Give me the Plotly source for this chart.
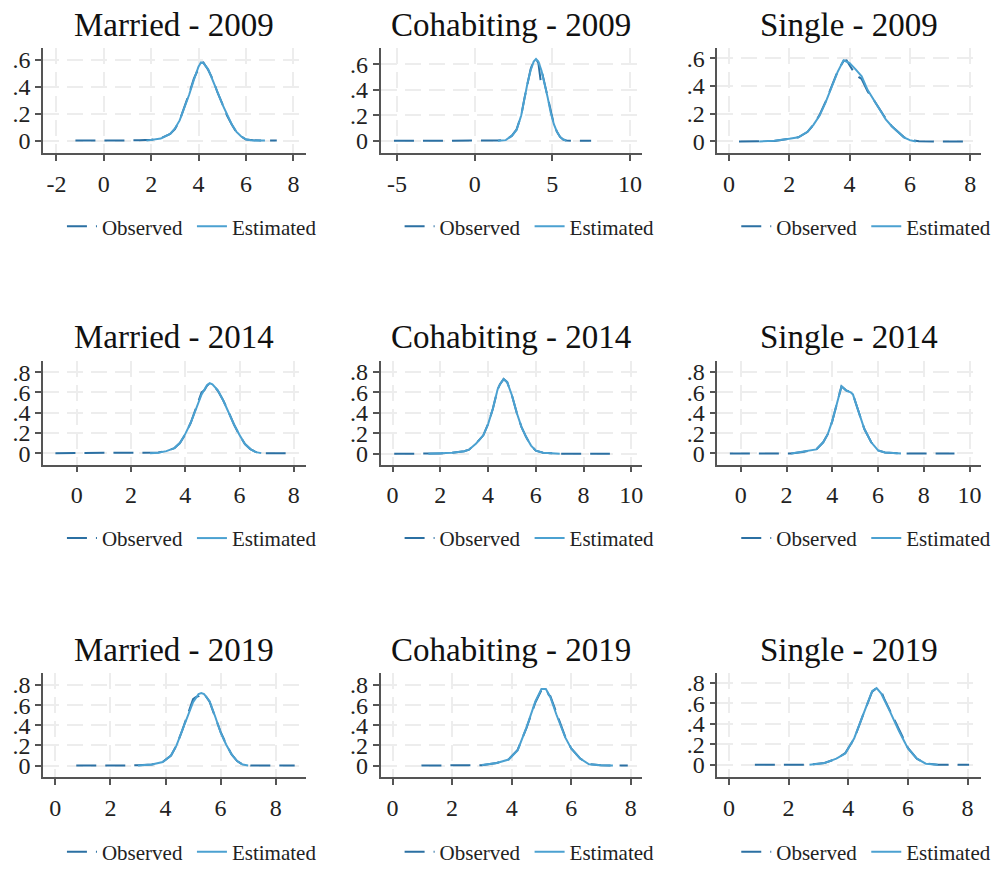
import plotly.graph_objects as go

FONT = "Liberation Serif"
OBS_COLOR = "#2b70a3"
EST_COLOR = "#4ba1d1"
AXIS_COLOR = "#555555"
GRID_COLOR = "#ededed"

titles = ["Married - 2009", "Cohabiting - 2009", "Single - 2009",
          "Married - 2014", "Cohabiting - 2014", "Single - 2014",
          "Married - 2019", "Cohabiting - 2019", "Single - 2019"]

# ---------------- Married 2009 ----------------
m09_est_x = [1.8, 2.0, 2.4, 2.8, 3.0, 3.2, 3.4, 3.6, 3.8, 4.0, 4.1, 4.2, 4.4, 4.6, 4.8, 5.0, 5.2, 5.4, 5.6, 5.8, 6.0, 6.2, 6.5, 6.8]
m09_est_y = [0.0, 0.005, 0.015, 0.05, 0.09, 0.15, 0.24, 0.34, 0.45, 0.55, 0.58, 0.575, 0.53, 0.45, 0.36, 0.27, 0.19, 0.12, 0.065, 0.03, 0.01, 0.003, 0.0, 0.0]
m09_obs_x = [-1.2, -0.5, 0.5, 1.5, 2.0, 2.4, 2.8, 3.0, 3.2, 3.4, 3.6, 3.8, 4.0, 4.1, 4.2, 4.4, 4.6, 4.8, 5.0, 5.2, 5.4, 5.6, 5.8, 6.0, 6.3, 6.8, 7.3]
m09_obs_y = [0.0, 0.0, 0.0, 0.002, 0.006, 0.018, 0.05, 0.085, 0.15, 0.245, 0.35, 0.46, 0.545, 0.575, 0.58, 0.525, 0.455, 0.355, 0.275, 0.185, 0.12, 0.06, 0.03, 0.008, 0.002, 0.0, 0.0]

# ---------------- Cohabiting 2009 ----------------
c09_est_x = [1.5, 2.0, 2.4, 2.7, 3.0, 3.2, 3.4, 3.6, 3.8, 3.95, 4.1, 4.3, 4.5, 4.7, 4.9, 5.1, 5.3, 5.5, 5.7, 5.9]
c09_est_y = [0.0, 0.005, 0.04, 0.085, 0.2, 0.33, 0.45, 0.55, 0.62, 0.64, 0.62, 0.55, 0.45, 0.34, 0.22, 0.13, 0.07, 0.03, 0.01, 0.0]
c09_obs_x = [-5.2, -3.0, -1.0, 1.0, 1.5, 2.0, 2.4, 2.7, 3.0, 3.2, 3.4, 3.6, 3.8, 3.95, 4.1, 4.25, 4.35, 4.5, 4.7, 4.9, 5.1, 5.3, 5.5, 5.7, 5.9, 6.5, 7.5]
c09_obs_y = [0.0, 0.0, 0.0, 0.0, 0.002, 0.006, 0.04, 0.09, 0.2, 0.33, 0.46, 0.56, 0.63, 0.64, 0.61, 0.47, 0.53, 0.45, 0.33, 0.22, 0.13, 0.07, 0.03, 0.01, 0.002, 0.0, 0.0]

# ---------------- Single 2009 ----------------
s09_est_x = [1.0, 1.5, 2.0, 2.3, 2.6, 2.8, 3.0, 3.2, 3.4, 3.6, 3.8, 4.0, 4.2, 4.4, 4.6, 4.8, 5.0, 5.2, 5.4, 5.6, 5.8, 6.0, 6.2]
s09_est_y = [0.0, 0.005, 0.02, 0.03, 0.07, 0.12, 0.185, 0.28, 0.39, 0.5, 0.585, 0.565, 0.52, 0.47, 0.37, 0.3, 0.23, 0.16, 0.11, 0.07, 0.03, 0.01, 0.0]
s09_obs_x = [0.33, 1.0, 1.5, 2.0, 2.3, 2.6, 2.8, 3.0, 3.2, 3.4, 3.6, 3.8, 3.9, 4.0, 4.2, 4.4, 4.6, 4.8, 5.0, 5.2, 5.4, 5.6, 5.8, 6.0, 6.3, 7.0, 8.03]
s09_obs_y = [0.0, 0.0, 0.004, 0.02, 0.03, 0.068, 0.12, 0.19, 0.285, 0.395, 0.505, 0.58, 0.585, 0.55, 0.48, 0.45, 0.36, 0.3, 0.235, 0.165, 0.11, 0.068, 0.032, 0.012, 0.002, 0.0, 0.0]

# ---------------- Married 2014 ----------------
m14_est_x = [2.7, 3.0, 3.3, 3.6, 3.8, 4.0, 4.2, 4.4, 4.6, 4.8, 4.9, 5.0, 5.2, 5.4, 5.6, 5.8, 6.0, 6.2, 6.4, 6.6, 6.8]
m14_est_y = [0.0, 0.005, 0.02, 0.05, 0.1, 0.19, 0.3, 0.44, 0.58, 0.67, 0.69, 0.68, 0.62, 0.52, 0.4, 0.28, 0.18, 0.09, 0.04, 0.01, 0.0]
m14_obs_x = [-0.79, 0.5, 1.5, 2.5, 3.0, 3.3, 3.6, 3.8, 4.0, 4.2, 4.4, 4.6, 4.7, 4.8, 4.9, 5.0, 5.2, 5.4, 5.6, 5.8, 6.0, 6.2, 6.4, 6.6, 6.9, 7.7]
m14_obs_y = [0.0, 0.0, 0.0, 0.001, 0.006, 0.021, 0.05, 0.1, 0.185, 0.3, 0.445, 0.6, 0.62, 0.665, 0.69, 0.685, 0.615, 0.52, 0.405, 0.28, 0.175, 0.09, 0.04, 0.01, 0.0, 0.0]

# ---------------- Cohabiting 2014 ----------------
c14_est_x = [1.5, 2.0, 2.5, 3.0, 3.2, 3.5, 3.8, 4.0, 4.2, 4.4, 4.5, 4.65, 4.8, 5.0, 5.2, 5.4, 5.6, 5.8, 6.0, 6.3, 7.0]
c14_est_y = [0.0, 0.002, 0.01, 0.025, 0.04, 0.1, 0.18, 0.29, 0.44, 0.63, 0.68, 0.73, 0.7, 0.57, 0.4, 0.26, 0.16, 0.08, 0.03, 0.01, 0.0]
c14_obs_x = [0.07, 1.0, 1.5, 2.0, 2.5, 3.0, 3.2, 3.5, 3.8, 4.0, 4.2, 4.4, 4.5, 4.65, 4.8, 5.0, 5.2, 5.4, 5.6, 5.8, 6.0, 6.3, 7.0, 8.0, 9.1]
c14_obs_y = [0.0, 0.0, 0.0, 0.002, 0.01, 0.025, 0.04, 0.1, 0.18, 0.29, 0.44, 0.63, 0.68, 0.73, 0.7, 0.57, 0.4, 0.26, 0.16, 0.08, 0.03, 0.01, 0.0, 0.0, 0.0]

# ---------------- Single 2014 ----------------
s14_est_x = [2.2, 2.7, 3.0, 3.3, 3.6, 3.8, 4.0, 4.2, 4.4, 4.6, 4.8, 4.9, 5.1, 5.25, 5.4, 5.7, 6.0, 6.3, 7.0]
s14_est_y = [0.0, 0.015, 0.025, 0.04, 0.11, 0.19, 0.32, 0.5, 0.66, 0.62, 0.6, 0.58, 0.45, 0.34, 0.24, 0.11, 0.03, 0.01, 0.0]
s14_obs_x = [-0.48, 0.5, 1.5, 2.2, 2.7, 3.0, 3.3, 3.6, 3.8, 4.0, 4.2, 4.4, 4.6, 4.8, 4.9, 5.1, 5.25, 5.4, 5.7, 6.0, 6.3, 7.0, 8.0, 9.34]
s14_obs_y = [0.0, 0.0, 0.0, 0.0, 0.015, 0.025, 0.04, 0.11, 0.19, 0.32, 0.5, 0.66, 0.62, 0.6, 0.58, 0.45, 0.34, 0.24, 0.11, 0.03, 0.01, 0.0, 0.0, 0.0]

# ---------------- Married 2019 ----------------
m19_est_x = [3.0, 3.5, 3.9, 4.2, 4.4, 4.6, 4.8, 5.0, 5.2, 5.3, 5.4, 5.6, 5.8, 6.0, 6.2, 6.4, 6.6, 6.8, 7.0]
m19_est_y = [0.0, 0.01, 0.035, 0.1, 0.2, 0.34, 0.5, 0.63, 0.71, 0.72, 0.71, 0.64, 0.49, 0.33, 0.21, 0.11, 0.045, 0.01, 0.0]
m19_obs_x = [0.76, 2.0, 3.0, 3.5, 3.9, 4.2, 4.4, 4.6, 4.8, 5.0, 5.1, 5.2, 5.3, 5.4, 5.6, 5.8, 6.0, 6.2, 6.4, 6.6, 6.8, 7.1, 8.0, 8.69]
m19_obs_y = [0.0, 0.0, 0.002, 0.011, 0.036, 0.1, 0.2, 0.345, 0.51, 0.66, 0.68, 0.69, 0.72, 0.715, 0.635, 0.485, 0.335, 0.215, 0.11, 0.045, 0.01, 0.0, 0.0, 0.0]

# ---------------- Cohabiting 2019 ----------------
c19_est_x = [3.0, 3.5, 3.9, 4.2, 4.5, 4.8, 5.0, 5.15, 5.3, 5.5, 5.8, 6.0, 6.3, 6.6, 7.0, 7.4]
c19_est_y = [0.005, 0.026, 0.06, 0.15, 0.38, 0.64, 0.76, 0.76, 0.68, 0.51, 0.28, 0.17, 0.07, 0.013, 0.003, 0.0]
c19_obs_x = [0.97, 2.0, 3.0, 3.5, 3.9, 4.2, 4.5, 4.8, 5.0, 5.15, 5.25, 5.3, 5.5, 5.8, 6.0, 6.3, 6.6, 7.0, 7.4, 7.9]
c19_obs_y = [0.0, 0.0, 0.004, 0.025, 0.062, 0.155, 0.375, 0.63, 0.75, 0.765, 0.7, 0.69, 0.52, 0.285, 0.17, 0.07, 0.015, 0.003, 0.0, 0.0]

# ---------------- Single 2019 ----------------
s19_est_x = [2.7, 3.2, 3.6, 3.9, 4.2, 4.5, 4.8, 4.95, 5.1, 5.4, 5.7, 6.0, 6.3, 6.6, 7.0]
s19_est_y = [0.0, 0.016, 0.06, 0.11, 0.26, 0.49, 0.72, 0.75, 0.7, 0.52, 0.33, 0.16, 0.06, 0.01, 0.0]
s19_obs_x = [0.87, 2.0, 2.7, 3.2, 3.6, 3.9, 4.2, 4.5, 4.8, 4.95, 5.1, 5.2, 5.4, 5.7, 6.0, 6.3, 6.6, 7.0, 8.05]
s19_obs_y = [0.0, 0.0, 0.001, 0.017, 0.058, 0.115, 0.255, 0.49, 0.715, 0.75, 0.72, 0.65, 0.53, 0.335, 0.165, 0.06, 0.012, 0.0, 0.0]

obs_x = [m09_obs_x, c09_obs_x, s09_obs_x, m14_obs_x, c14_obs_x, s14_obs_x, m19_obs_x, c19_obs_x, s19_obs_x]
obs_y = [m09_obs_y, c09_obs_y, s09_obs_y, m14_obs_y, c14_obs_y, s14_obs_y, m19_obs_y, c19_obs_y, s19_obs_y]
est_x = [m09_est_x, c09_est_x, s09_est_x, m14_est_x, c14_est_x, s14_est_x, m19_est_x, c19_est_x, s19_est_x]
est_y = [m09_est_y, c09_est_y, s09_est_y, m14_est_y, c14_est_y, s14_est_y, m19_est_y, c19_est_y, s19_est_y]

x_ticks = [[-2, 0, 2, 4, 6, 8], [-5, 0, 5, 10], [0, 2, 4, 6, 8],
           [0, 2, 4, 6, 8], [0, 2, 4, 6, 8, 10], [0, 2, 4, 6, 8, 10],
           [0, 2, 4, 6, 8], [0, 2, 4, 6, 8], [0, 2, 4, 6, 8]]
y_ticks_row1 = [0, 0.2, 0.4, 0.6]
y_ticks_row23 = [0, 0.2, 0.4, 0.6, 0.8]
y_tick_text = {0: "0", 0.2: ".2", 0.4: ".4", 0.6: ".6", 0.8: ".8"}

x_ranges = [[-2.57, 8.52], [-6.06, 10.8], [-0.39, 8.36],
            [-1.25, 8.44], [-0.5, 10.46], [-1.03, 10.5],
            [-0.45, 9.09], [-0.4, 8.39], [-0.39, 8.45]]
y_ranges = [[-0.095, 0.69], [-0.099, 0.73], [-0.086, 0.677],
            [-0.114, 0.907], [-0.107, 0.904], [-0.11, 0.905],
            [-0.118, 0.92], [-0.118, 0.92], [-0.124, 0.898]]

H = 873.0
col_dom = [(0.043, 0.306), (0.381, 0.643), (0.718, 0.982)]
row_dom = [(1 - 152 / H, 1 - 45 / H), (1 - 466.5 / H, 1 - 362 / H), (1 - 782.5 / H, 1 - 677 / H)]
title_y = [1 - 22 / H, 1 - 337 / H, 1 - 654 / H]
legend_y = [1 - 226 / H, 1 - 541 / H, 1 - 858 / H]

fig = go.Figure()
layout = dict(
    width=1000, height=873,
    margin=dict(l=0, r=0, t=0, b=0),
    paper_bgcolor="white", plot_bgcolor="white",
    annotations=[],
)

for i in range(9):
    r, c = divmod(i, 3)
    n = "" if i == 0 else str(i + 1)
    leg = "legend" if i == 0 else "legend" + str(i + 1)
    fig.add_trace(go.Scatter(
        x=obs_x[i], y=obs_y[i], mode="lines", name="Observed",
        line=dict(color=OBS_COLOR, width=2, dash="20px,9px"),
        xaxis="x" + n, yaxis="y" + n, legend=leg, showlegend=True))
    fig.add_trace(go.Scatter(
        x=est_x[i], y=est_y[i], mode="lines", name="Estimated",
        line=dict(color=EST_COLOR, width=2),
        xaxis="x" + n, yaxis="y" + n, legend=leg, showlegend=True))

    yt = y_ticks_row1 if r == 0 else y_ticks_row23
    common = dict(showline=True, linecolor=AXIS_COLOR, linewidth=1.5,
                  ticks="outside", ticklen=6, tickwidth=1.5, tickcolor=AXIS_COLOR,
                  showgrid=True, gridcolor=GRID_COLOR, gridwidth=1.5, griddash="16px,8px",
                  zeroline=False, fixedrange=True,
                  tickfont=dict(family=FONT, size=24, color="#222222"))
    layout["xaxis" + n] = dict(common, domain=list(col_dom[c]), range=x_ranges[i],
                               tickmode="array", tickvals=x_ticks[i],
                               ticktext=[str(v) for v in x_ticks[i]],
                               anchor="y" + n, ticklabelstandoff=2)
    layout["yaxis" + n] = dict(common, domain=list(row_dom[r]), range=y_ranges[i],
                               tickmode="array", tickvals=yt,
                               ticktext=[y_tick_text[v] for v in yt],
                               anchor="x" + n, ticklabelstandoff=0)
    layout[leg] = dict(orientation="h", x=col_dom[c][0] + 0.019, y=legend_y[r],
                       xanchor="left", yanchor="middle",
                       font=dict(family=FONT, size=21, color="#222222"),
                       bgcolor="rgba(0,0,0,0)", borderwidth=0,
                       itemwidth=30, entrywidth=85, traceorder="normal")
    layout["annotations"].append(dict(
        text=titles[i], xref="paper", yref="paper",
        x=(col_dom[c][0] + col_dom[c][1]) / 2, y=title_y[r],
        xanchor="center", yanchor="middle", showarrow=False,
        font=dict(family=FONT, size=33, color="#111111")))

fig.update_layout(**layout)
fig.write_html("out.html")
